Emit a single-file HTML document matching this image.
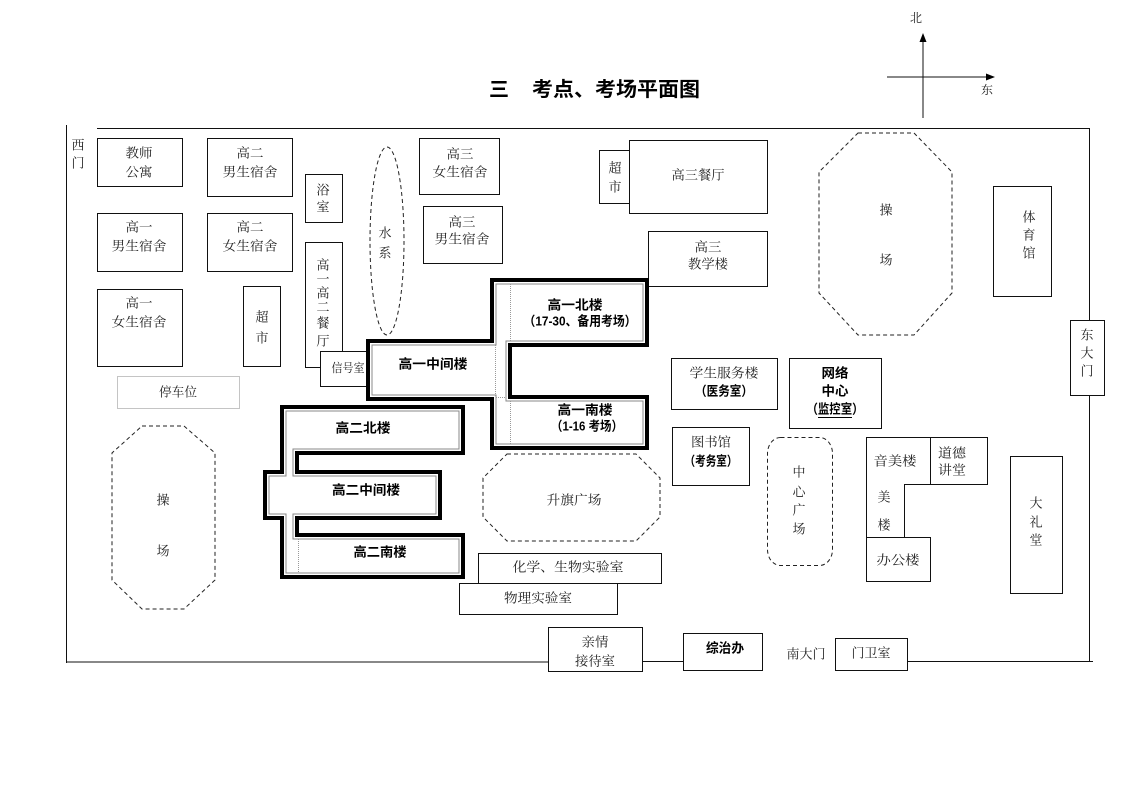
<!DOCTYPE html>
<html><head><meta charset="utf-8">
<style>
html,body{margin:0;padding:0;background:#fff;}
svg{display:block;}
.r{font-family:"Liberation Serif","Noto Serif CJK SC",serif;font-size:13px;fill:#222;}
.b{font-family:"Liberation Sans","Noto Sans CJK SC",sans-serif;font-size:13px;font-weight:700;fill:#000;}
text{text-anchor:middle;dominant-baseline:central;}
.bx{fill:#fff;stroke:#111;stroke-width:1;}
.ln{stroke:#111;stroke-width:1;fill:none;}
.ds{fill:none;stroke:#222;stroke-width:1;stroke-dasharray:4,3;}
.thick{fill:#fff;stroke:#000;stroke-width:4;stroke-linejoin:miter;}
.inner{fill:none;stroke:#888;stroke-width:1;}
.dot{stroke:#999;stroke-width:1;stroke-dasharray:1,1;fill:none;}
</style></head><body>
<svg width="1122" height="793" viewBox="0 0 1122 793" xmlns="http://www.w3.org/2000/svg">
<rect x="0" y="0" width="1122" height="793" fill="#fff"/>

<!-- Title -->
<text class="b" x="499" y="90" style="font-size:20px">三</text>
<text class="b" x="616" y="90" style="font-size:20px" textLength="168" lengthAdjust="spacingAndGlyphs">考点、考场平面图</text>

<!-- Compass -->
<line class="ln" x1="923" y1="40" x2="923" y2="118"/>
<polygon points="923,33 919.5,42 926.5,42" fill="#000"/>
<line class="ln" x1="887" y1="77" x2="988" y2="77"/>
<polygon points="995,77 986,73.5 986,80.5" fill="#000"/>
<text class="r" x="916" y="18" style="font-size:12px">北</text>
<text class="r" x="987" y="90" style="font-size:12px">东</text>

<!-- Boundary -->
<line class="ln" x1="97" y1="128.5" x2="1089" y2="128.5"/>
<line class="ln" x1="66.5" y1="125" x2="66.5" y2="663"/>
<line class="ln" x1="66" y1="662" x2="548" y2="662"/>
<line class="ln" x1="642" y1="661.5" x2="683" y2="661.5"/>
<line class="ln" x1="907" y1="661.5" x2="1093" y2="661.5"/>
<line class="ln" x1="1089.5" y1="128" x2="1089.5" y2="661"/>

<text class="r" x="78" y="145">西</text>
<text class="r" x="78" y="163">门</text>

<!-- Left dorm area -->
<rect class="bx" x="97.5" y="138.5" width="85" height="48"/>
<text class="r" x="139" y="153" textLength="27" lengthAdjust="spacingAndGlyphs">教师</text>
<text class="r" x="139" y="172" textLength="27" lengthAdjust="spacingAndGlyphs">公寓</text>

<rect class="bx" x="207.5" y="138.5" width="85" height="58"/>
<text class="r" x="250" y="153" textLength="27" lengthAdjust="spacingAndGlyphs">高二</text>
<text class="r" x="250" y="172" textLength="55" lengthAdjust="spacingAndGlyphs">男生宿舍</text>

<rect class="bx" x="305.5" y="174.5" width="37" height="48"/>
<text class="r" x="323" y="190">浴</text>
<text class="r" x="323" y="207">室</text>

<rect class="bx" x="97.5" y="213.5" width="85" height="58"/>
<text class="r" x="139" y="227" textLength="27" lengthAdjust="spacingAndGlyphs">高一</text>
<text class="r" x="139" y="246" textLength="55" lengthAdjust="spacingAndGlyphs">男生宿舍</text>

<rect class="bx" x="207.5" y="213.5" width="85" height="58"/>
<text class="r" x="250" y="227" textLength="27" lengthAdjust="spacingAndGlyphs">高二</text>
<text class="r" x="250" y="246" textLength="55" lengthAdjust="spacingAndGlyphs">女生宿舍</text>

<rect class="bx" x="305.5" y="242.5" width="37" height="125"/>
<text class="r" x="323" y="265">高</text>
<text class="r" x="323" y="279">一</text>
<text class="r" x="323" y="293">高</text>
<text class="r" x="323" y="307">二</text>
<text class="r" x="323" y="323">餐</text>
<text class="r" x="323" y="341">厅</text>

<rect class="bx" x="97.5" y="289.5" width="85" height="77"/>
<text class="r" x="139" y="303" textLength="27" lengthAdjust="spacingAndGlyphs">高一</text>
<text class="r" x="139" y="322" textLength="55" lengthAdjust="spacingAndGlyphs">女生宿舍</text>

<rect class="bx" x="243.5" y="286.5" width="37" height="80"/>
<text class="r" x="262" y="317">超</text>
<text class="r" x="262" y="338">市</text>

<rect class="bx" x="320.5" y="351.5" width="56" height="35"/>
<text class="r" x="348" y="368" style="font-size:12px" textLength="33" lengthAdjust="spacingAndGlyphs">信号室</text>

<rect x="117.5" y="376.5" width="122" height="32" fill="#fff" stroke="#888" stroke-width="1" stroke-dasharray="1,1"/>
<text class="r" x="178" y="392" textLength="38" lengthAdjust="spacingAndGlyphs">停车位</text>

<!-- Water -->
<ellipse class="ds" cx="387" cy="241" rx="17" ry="94"/>
<text class="r" x="385" y="233">水</text>
<text class="r" x="385" y="253">系</text>

<!-- Gao san -->
<rect class="bx" x="419.5" y="138.5" width="80" height="56"/>
<text class="r" x="460" y="154" textLength="27" lengthAdjust="spacingAndGlyphs">高三</text>
<text class="r" x="460" y="172" textLength="55" lengthAdjust="spacingAndGlyphs">女生宿舍</text>

<rect class="bx" x="423.5" y="206.5" width="79" height="57"/>
<text class="r" x="462" y="222" textLength="27" lengthAdjust="spacingAndGlyphs">高三</text>
<text class="r" x="462" y="239" textLength="55" lengthAdjust="spacingAndGlyphs">男生宿舍</text>

<rect class="bx" x="599.5" y="150.5" width="32" height="53"/>
<text class="r" x="615" y="168">超</text>
<text class="r" x="615" y="187">市</text>

<rect class="bx" x="629.5" y="140.5" width="138" height="73"/>
<text class="r" x="698" y="175" textLength="53" lengthAdjust="spacingAndGlyphs">高三餐厅</text>

<rect class="bx" x="648.5" y="231.5" width="119" height="55"/>
<text class="r" x="708" y="247" textLength="27" lengthAdjust="spacingAndGlyphs">高三</text>
<text class="r" x="708" y="264" textLength="40" lengthAdjust="spacingAndGlyphs">教学楼</text>

<!-- Right playground -->
<path class="ds" d="M858,133 L914,133 L952,172 L952,293 L914,335 L858,335 L819,293 L819,172 Z"/>
<text class="r" x="886" y="210">操</text>
<text class="r" x="886" y="260">场</text>

<rect class="bx" x="993.5" y="186.5" width="58" height="110"/>
<text class="r" x="1029" y="217">体</text>
<text class="r" x="1029" y="235">育</text>
<text class="r" x="1029" y="253">馆</text>

<rect class="bx" x="1070.5" y="320.5" width="34" height="75"/>
<text class="r" x="1087" y="335">东</text>
<text class="r" x="1087" y="353">大</text>
<text class="r" x="1087" y="371">门</text>

<rect class="bx" x="671.5" y="358.5" width="106" height="51"/>
<text class="r" x="724" y="373" textLength="69" lengthAdjust="spacingAndGlyphs">学生服务楼</text>
<text class="b" x="724" y="391" textLength="58" lengthAdjust="spacingAndGlyphs">（医务室）</text>

<rect class="bx" x="789.5" y="358.5" width="92" height="70"/>
<text class="b" x="835" y="373" textLength="27" lengthAdjust="spacingAndGlyphs">网络</text>
<text class="b" x="835" y="391" textLength="27" lengthAdjust="spacingAndGlyphs">中心</text>
<text class="b" x="835" y="409" textLength="57" lengthAdjust="spacingAndGlyphs">（监控室）</text>
<line x1="818" y1="417.5" x2="852" y2="417.5" stroke="#000" stroke-width="1"/>

<!-- Gao yi complex -->
<path class="thick" d="M492,280 L647,280 L647,345 L510,345 L510,397 L647,397 L647,448 L492,448 L492,399 L368,399 L368,341 L492,341 Z"/>
<path class="inner" d="M496,284 L643,284 L643,341 L506,341 L506,401 L643,401 L643,444 L496,444 L496,395 L372,395 L372,345 L496,345 Z"/>
<line class="dot" x1="510.5" y1="284" x2="510.5" y2="341"/>
<line class="dot" x1="510.5" y1="401" x2="510.5" y2="444"/>
<line class="dot" x1="495.5" y1="345" x2="495.5" y2="396"/>
<line class="dot" x1="496" y1="397.5" x2="506" y2="397.5"/>
<text class="b" x="575" y="305" textLength="55" lengthAdjust="spacingAndGlyphs">高一北楼</text>
<text class="b" x="580" y="321" textLength="113" lengthAdjust="spacingAndGlyphs">（17-30、备用考场）</text>
<text class="b" x="433" y="364" textLength="69" lengthAdjust="spacingAndGlyphs">高一中间楼</text>
<text class="b" x="585" y="410" textLength="55" lengthAdjust="spacingAndGlyphs">高一南楼</text>
<text class="b" x="587" y="426" textLength="72" lengthAdjust="spacingAndGlyphs">（1-16 考场）</text>

<!-- Gao er complex -->
<path class="thick" d="M282,407 L463,407 L463,453 L297,453 L297,472 L440,472 L440,518 L297,518 L297,535 L463,535 L463,577 L282,577 L282,518 L265,518 L265,472 L282,472 Z"/>
<path class="inner" d="M286,411 L459,411 L459,449 L293,449 L293,476 L436,476 L436,514 L293,514 L293,539 L459,539 L459,573 L286,573 L286,514 L269,514 L269,476 L286,476 Z"/>
<line class="dot" x1="298.5" y1="539" x2="298.5" y2="573"/>
<text class="b" x="363" y="428" textLength="55" lengthAdjust="spacingAndGlyphs">高二北楼</text>
<text class="b" x="366" y="490" textLength="68" lengthAdjust="spacingAndGlyphs">高二中间楼</text>
<text class="b" x="380" y="552" textLength="53" lengthAdjust="spacingAndGlyphs">高二南楼</text>

<!-- Left playground -->
<path class="ds" d="M142,426 L184,426 L215,453 L215,580 L184,609 L142,609 L112,580 L112,453 Z"/>
<text class="r" x="163" y="500">操</text>
<text class="r" x="163" y="551">场</text>

<!-- Flag square -->
<path class="ds" d="M507,454 L636,454 L660,478 L660,517 L636,541 L507,541 L483,517 L483,478 Z"/>
<text class="r" x="574" y="500" textLength="55" lengthAdjust="spacingAndGlyphs">升旗广场</text>

<!-- Labs -->
<rect class="bx" x="478.5" y="553.5" width="183" height="30"/>
<text class="r" x="568" y="567" textLength="111" lengthAdjust="spacingAndGlyphs">化学、生物实验室</text>
<rect class="bx" x="459.5" y="583.5" width="158" height="31"/>
<text class="r" x="538" y="598" textLength="68" lengthAdjust="spacingAndGlyphs">物理实验室</text>

<!-- Library -->
<rect class="bx" x="672.5" y="427.5" width="77" height="58"/>
<text class="r" x="711" y="442" textLength="40" lengthAdjust="spacingAndGlyphs">图书馆</text>
<text class="b" x="711" y="461" textLength="53" lengthAdjust="spacingAndGlyphs">（考务室）</text>

<!-- Central square -->
<rect class="ds" x="767.5" y="437.5" width="65" height="128" rx="13" ry="16"/>
<text class="r" x="799" y="472">中</text>
<text class="r" x="799" y="492">心</text>
<text class="r" x="799" y="510">广</text>
<text class="r" x="799" y="529">场</text>

<!-- Music/art building -->
<path class="bx" d="M866.5,437.5 L930.5,437.5 L930.5,484.5 L904.5,484.5 L904.5,537.5 L866.5,537.5 Z"/>
<text class="r" x="895" y="461" textLength="43" lengthAdjust="spacingAndGlyphs">音美楼</text>
<text class="r" x="884" y="497">美</text>
<text class="r" x="884" y="525">楼</text>
<rect class="bx" x="930.5" y="437.5" width="57" height="47"/>
<text class="r" x="952" y="453" textLength="28" lengthAdjust="spacingAndGlyphs">道德</text>
<text class="r" x="952" y="470" textLength="28" lengthAdjust="spacingAndGlyphs">讲堂</text>
<rect class="bx" x="866.5" y="537.5" width="64" height="44"/>
<text class="r" x="898" y="560" textLength="43" lengthAdjust="spacingAndGlyphs">办公楼</text>

<rect class="bx" x="1010.5" y="456.5" width="52" height="137"/>
<text class="r" x="1036" y="503">大</text>
<text class="r" x="1036" y="522">礼</text>
<text class="r" x="1036" y="540">堂</text>

<!-- Bottom -->
<rect class="bx" x="548.5" y="627.5" width="94" height="44"/>
<text class="r" x="595" y="642" textLength="27" lengthAdjust="spacingAndGlyphs">亲情</text>
<text class="r" x="595" y="661" textLength="40" lengthAdjust="spacingAndGlyphs">接待室</text>

<rect class="bx" x="683.5" y="633.5" width="79" height="37"/>
<text class="b" x="725" y="648" textLength="38" lengthAdjust="spacingAndGlyphs">综治办</text>

<text class="r" x="806" y="654" textLength="39" lengthAdjust="spacingAndGlyphs">南大门</text>

<rect class="bx" x="835.5" y="638.5" width="72" height="32"/>
<text class="r" x="871" y="653" textLength="39" lengthAdjust="spacingAndGlyphs">门卫室</text>

</svg>
</body></html>
